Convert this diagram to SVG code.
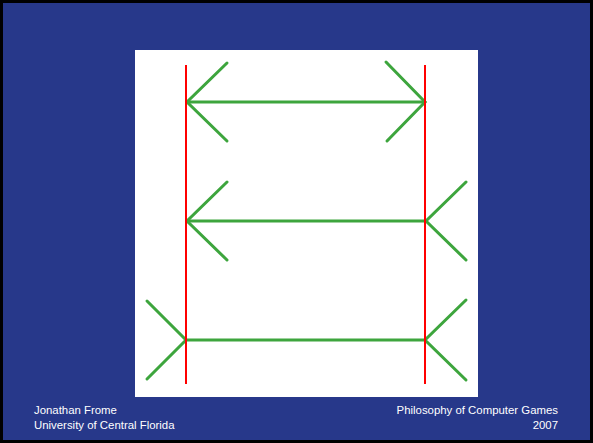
<svg xmlns="http://www.w3.org/2000/svg" width="593" height="443" viewBox="0 0 593 443">
<style>
.g{stroke:#3da53d;stroke-width:3;stroke-linecap:round;fill:none}
.r{stroke:#ff0000;stroke-width:2;fill:none}
.t{font-family:"Liberation Sans",Arial,sans-serif;font-size:11.4px;fill:#ffffff}
</style>
<rect x="0" y="0" width="593" height="443" fill="#000000"/>
<rect x="3" y="3" width="587" height="437" fill="#27388a"/>
<rect id="panel" x="135" y="50" width="343" height="347" fill="#ffffff"/>
<g id="connectors">
<g id="row1">
<line class="g" x1="187" y1="102" x2="425" y2="102"/>
<polyline class="g" points="227,63 187,102 227,141"/>
<polyline class="g" points="386,62 425,102 387,141"/>
</g>
<g id="row2">
<line class="g" x1="187" y1="221" x2="426" y2="221"/>
<polyline class="g" points="227,182 187,221 227,260"/>
<polyline class="g" points="466,182 426,221 466,260"/>
</g>
<g id="row3">
<line class="g" x1="186" y1="340" x2="425" y2="340"/>
<polyline class="g" points="147,301 186,340 147,379"/>
<polyline class="g" points="466,300 425,340 466,380"/>
</g>
<line class="r" x1="186" y1="65" x2="186" y2="384"/>
<line class="r" x1="425" y1="65" x2="425" y2="384"/>
</g>
<g id="footer">
<text class="t" x="34" y="414">Jonathan Frome</text>
<text class="t" x="34" y="429">University of Central Florida</text>
<text class="t" x="558" y="414" text-anchor="end">Philosophy of Computer Games</text>
<text class="t" x="558" y="429" text-anchor="end">2007</text>
</g>
</svg>
